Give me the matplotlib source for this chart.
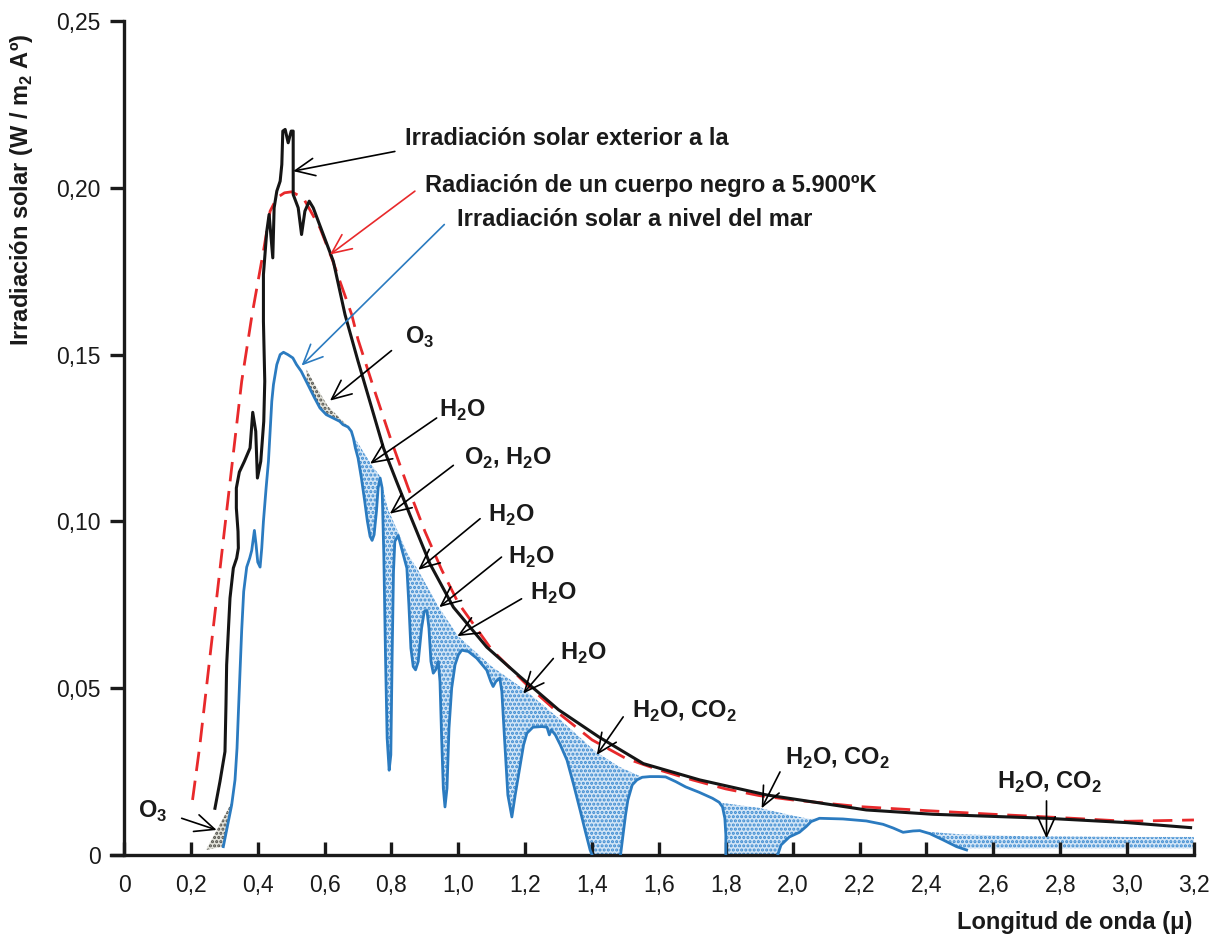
import matplotlib
matplotlib.use("Agg")
import matplotlib.pyplot as plt
import numpy as np

plt.rcParams['font.family'] = ['Liberation Sans', 'DejaVu Sans']
plt.rcParams['mathtext.fontset'] = 'custom'
plt.rcParams['mathtext.rm'] = 'Liberation Sans'
plt.rcParams['mathtext.bf'] = 'Liberation Sans:bold'
plt.rcParams['hatch.linewidth'] = 1.5

# ---------------- data (wavelength in micron, irradiance W/m2 A) ----------------
# Extraterrestrial solar irradiance (black)
ext_x = [0.272, 0.287, 0.302, 0.305, 0.307, 0.317, 0.327, 0.337, 0.342, 0.341, 0.336, 0.336,
         0.345, 0.360, 0.377, 0.385, 0.394, 0.399, 0.409, 0.418, 0.421, 0.417, 0.417, 0.427,
         0.434, 0.445, 0.449, 0.457, 0.467, 0.472, 0.475, 0.482, 0.491, 0.500, 0.506, 0.506,
         0.506, 0.521, 0.531, 0.541, 0.554, 0.566, 0.596, 0.626, 0.661, 0.700, 0.741, 0.776,
         0.815, 0.855, 0.915, 0.985, 1.085, 1.184, 1.30, 1.42, 1.553, 1.722, 1.922, 2.22,
         2.42, 2.76, 3.00, 3.19]
ext_y = [0.014, 0.022, 0.031, 0.045, 0.057, 0.077, 0.086, 0.089, 0.092, 0.097, 0.104, 0.110,
         0.1148, 0.118, 0.122, 0.1327, 0.127, 0.113, 0.118, 0.130, 0.142, 0.160, 0.174,
         0.187, 0.192, 0.179, 0.194, 0.199, 0.202, 0.207, 0.217, 0.2175, 0.2135, 0.217,
         0.217, 0.205, 0.198, 0.194, 0.186, 0.193, 0.196, 0.194, 0.186, 0.178, 0.162, 0.148,
         0.134, 0.122, 0.112, 0.102, 0.0873, 0.0743, 0.0623, 0.0535, 0.0435, 0.0354, 0.0274,
         0.0225, 0.018, 0.0135, 0.0122, 0.011, 0.0097, 0.0082]

# Blackbody radiation at 5900 K (red dashed)
bb_x = [0.205, 0.227, 0.26, 0.30, 0.352, 0.383, 0.417, 0.437, 0.457, 0.48, 0.501, 0.536,
        0.586, 0.621, 0.681, 0.70, 0.75, 0.80, 0.85, 0.90, 0.95, 1.0, 1.1, 1.2, 1.3, 1.4,
        1.5, 1.6, 1.7, 1.8, 1.9, 2.0, 2.2, 2.4, 2.6, 2.8, 3.0, 3.2]
bb_y = [0.0165, 0.033, 0.062, 0.097, 0.142, 0.162, 0.181, 0.193, 0.197, 0.1985, 0.1988, 0.197,
        0.188, 0.179, 0.162, 0.1545, 0.139, 0.124, 0.110, 0.097, 0.0855, 0.0755, 0.0615,
        0.0515, 0.0425, 0.0345, 0.029, 0.0255, 0.0225, 0.0198, 0.0178, 0.0165, 0.0145,
        0.0133, 0.0122, 0.0112, 0.0101, 0.0105]

# Solar irradiance at sea level (blue), three pieces
sea1_x = [0.297, 0.31, 0.322, 0.332, 0.338, 0.342, 0.347, 0.352, 0.358, 0.367, 0.376, 0.382,
          0.39, 0.395, 0.400, 0.407, 0.412, 0.417, 0.425, 0.432, 0.437, 0.442, 0.447, 0.457,
          0.467, 0.477, 0.49, 0.505, 0.516, 0.53, 0.55, 0.57, 0.586, 0.605, 0.625, 0.645,
          0.655, 0.67, 0.68, 0.686, 0.692, 0.70, 0.71, 0.72, 0.728, 0.736, 0.742, 0.748,
          0.755, 0.76, 0.766, 0.772, 0.777, 0.782, 0.787, 0.793, 0.798, 0.802, 0.806, 0.81,
          0.82, 0.83, 0.846, 0.852, 0.858, 0.865, 0.872, 0.88, 0.89, 0.898, 0.906, 0.912,
          0.918, 0.925, 0.932, 0.94, 0.945, 0.95, 0.955, 0.96, 0.966, 0.972, 0.98, 0.99,
          1.0, 1.01, 1.03, 1.055, 1.085, 1.097, 1.104, 1.112, 1.124, 1.13, 1.138, 1.148,
          1.16, 1.17, 1.184, 1.195, 1.205, 1.223, 1.25, 1.265, 1.272, 1.278, 1.29, 1.305,
          1.325, 1.345, 1.364, 1.38, 1.394, 1.40]
sea1_y = [0.0025, 0.009, 0.015, 0.0225, 0.032, 0.0424, 0.055, 0.0674, 0.079, 0.0863, 0.089,
          0.0913, 0.0973, 0.093, 0.0878, 0.0863, 0.092, 0.100, 0.110, 0.118, 0.127, 0.136,
          0.141, 0.147, 0.150, 0.1507, 0.150, 0.149, 0.147, 0.145, 0.141, 0.137, 0.134,
          0.132, 0.131, 0.130, 0.129, 0.1283, 0.127, 0.125, 0.122, 0.119, 0.113, 0.106,
          0.100, 0.0955, 0.0943, 0.096, 0.103, 0.110, 0.113, 0.110, 0.090, 0.060, 0.035,
          0.0254, 0.030, 0.060, 0.085, 0.094, 0.0958, 0.092, 0.086, 0.075, 0.062, 0.0565,
          0.0555, 0.058, 0.068, 0.073, 0.0733, 0.068, 0.058, 0.0545, 0.0555, 0.058, 0.052,
          0.035, 0.020, 0.0144, 0.020, 0.038, 0.050, 0.057, 0.060, 0.0614, 0.061, 0.059,
          0.0554, 0.052, 0.0505, 0.052, 0.053, 0.049, 0.035, 0.018, 0.0114, 0.018, 0.0264,
          0.033, 0.0365, 0.0383, 0.0385, 0.0383, 0.036, 0.0375, 0.036, 0.033, 0.0284, 0.021,
          0.0135, 0.007, 0.0015, 0.0]
sea2_x = [1.485, 1.49, 1.50, 1.507, 1.52, 1.534, 1.55, 1.573, 1.60, 1.62, 1.65, 1.68, 1.72,
          1.76, 1.78, 1.79, 1.797, 1.80, 1.80]
sea2_y = [0.0, 0.004, 0.012, 0.0165, 0.021, 0.0225, 0.0233, 0.0235, 0.0235, 0.0234, 0.022,
          0.0204, 0.0188, 0.017, 0.0158, 0.0144, 0.011, 0.006, 0.0]
sea3_x = [1.955, 1.965, 1.99, 2.02, 2.04, 2.055, 2.08, 2.15, 2.22, 2.27, 2.30, 2.33, 2.36,
          2.38, 2.41, 2.45, 2.49, 2.52]
sea3_y = [0.0, 0.003, 0.0054, 0.0068, 0.0085, 0.010, 0.011, 0.0108, 0.0102, 0.0092, 0.0081,
          0.0068, 0.0072, 0.0073, 0.0064, 0.0045, 0.0025, 0.0015]

# Upper envelopes of the absorption (stippled) bands
band1_x = [0.69, 0.74, 0.766, 0.79, 0.85, 0.88, 0.94, 1.0, 1.1, 1.2, 1.3, 1.41, 1.48, 1.55]
band1_y = [0.125, 0.117, 0.1135, 0.1035, 0.090, 0.0853, 0.0745, 0.0655, 0.0565, 0.0494,
           0.041, 0.031, 0.0265, 0.0233]
band2_x = [1.79, 1.9, 2.0, 2.05, 2.08]
band2_y = [0.0156, 0.0141, 0.0118, 0.0108, 0.011]
band3_x = [2.36, 2.5, 2.7, 3.0, 3.2]
band3_y = [0.0073, 0.0062, 0.0056, 0.0054, 0.0054]
band3_floor = 0.002

# Ozone absorption (gray stipple)
o3a_x = [0.546, 0.58, 0.61, 0.64, 0.665]
o3a_y = [0.1455, 0.1395, 0.1345, 0.1315, 0.129]
o3b_x = [0.245, 0.326, 0.322, 0.31, 0.297]
o3b_y = [0.0015, 0.0165, 0.015, 0.009, 0.0025]

xticks = [0, 0.2, 0.4, 0.6, 0.8, 1.0, 1.2, 1.4, 1.6, 1.8, 2.0, 2.2, 2.4, 2.6, 2.8, 3.0, 3.2]
xtick_labels = ['0', '0,2', '0,4', '0,6', '0,8', '1,0', '1,2', '1,4', '1,6', '1,8', '2,0',
                '2,2', '2,4', '2,6', '2,8', '3,0', '3,2']
yticks = [0, 0.05, 0.10, 0.15, 0.20, 0.25]
ytick_labels = ['0', '0,05', '0,10', '0,15', '0,20', '0,25']

# annotations: (text, text position, arrow tail, arrow tip, colour)
notes = [
    ('Irradiación solar exterior a la', (0.841, 0.2147), (0.810, 0.2109), (0.506, 0.205), 'k'),
    ('Radiación de un cuerpo negro a 5.900ºK', (0.900, 0.2006), (0.870, 0.199), (0.616, 0.180), '#e8292b'),
    ('Irradiación solar a nivel del mar', (0.996, 0.1904), (0.958, 0.189), (0.531, 0.1467), '#2b7bc0'),
    (r'O$_\mathbf{3}$', (0.840, 0.1551), (0.80, 0.1512), (0.616, 0.1362), 'k'),
    (r'H$_\mathbf{2}$O', (0.943, 0.1332), (0.935, 0.131), (0.736, 0.1173), 'k'),
    (r'O$_\mathbf{2}$, H$_\mathbf{2}$O', (1.017, 0.1188), (0.985, 0.1168), (0.795, 0.1023), 'k'),
    (r'H$_\mathbf{2}$O', (1.089, 0.1018), (1.065, 0.1008), (0.880, 0.0855), 'k'),
    (r'H$_\mathbf{2}$O', (1.149, 0.0893), (1.129, 0.0893), (0.943, 0.0743), 'k'),
    (r'H$_\mathbf{2}$O', (1.214, 0.0783), (1.189, 0.0768), (0.997, 0.0656), 'k'),
    (r'H$_\mathbf{2}$O', (1.304, 0.0604), (1.284, 0.0589), (1.194, 0.0484), 'k'),
    (r'H$_\mathbf{2}$O, CO$_\mathbf{2}$', (1.518, 0.0429), (1.493, 0.0414), (1.414, 0.030), 'k'),
    (r'H$_\mathbf{2}$O, CO$_\mathbf{2}$', (1.977, 0.0290), (1.962, 0.0249), (1.907, 0.014), 'k'),
    (r'H$_\mathbf{2}$O, CO$_\mathbf{2}$', (2.610, 0.0219), (2.759, 0.0162), (2.759, 0.005), 'k'),
    (r'O$_\mathbf{3}$', (0.043, 0.0130), (0.1725, 0.011), (0.277, 0.0075), 'k'),
]

# ---------------- figure ----------------
fig = plt.figure(figsize=(12.13, 9.34), dpi=100)
ax = fig.add_axes([0.0912, 0.0846, 0.8931, 0.8929])
ax.set_xlim(-0.04, 3.2)
ax.set_ylim(0, 0.25)

blue = '#2b7bc0'
fill_face = '#d2e5f6'
fill_hatch = '#3b8ad0'
HATCH = '....'

# stippled absorption bands
sea1_full_x = np.array(sea1_x + sea2_x)
sea1_full_y = np.array(sea1_y + sea2_y)
bx = np.linspace(band1_x[0], band1_x[-1], 600)
top = np.interp(bx, band1_x, band1_y)
low = np.interp(bx, sea1_full_x, sea1_full_y)
low[(bx > 1.40) & (bx < 1.485)] = 0.0
ax.fill_between(bx, low, top, where=top >= low, interpolate=True, facecolor=fill_face,
                edgecolor=fill_hatch, hatch=HATCH, linewidth=0, zorder=1)

bx2 = np.linspace(band2_x[0], band2_x[-1], 300)
top2 = np.interp(bx2, band2_x, band2_y)
all_x = np.array(sea2_x + sea3_x)
all_y = np.array(sea2_y + sea3_y)
low2 = np.interp(bx2, all_x, all_y)
low2[(bx2 > 1.80) & (bx2 < 1.955)] = 0.0
ax.fill_between(bx2, low2, top2, where=top2 >= low2, interpolate=True, facecolor=fill_face,
                edgecolor=fill_hatch, hatch=HATCH, linewidth=0, zorder=1)

bx3 = np.linspace(band3_x[0], band3_x[-1], 400)
top3 = np.interp(bx3, band3_x, band3_y)
low3 = np.interp(bx3, sea3_x, sea3_y, right=band3_floor)
low3 = np.maximum(low3, band3_floor)
ax.fill_between(bx3, low3, top3, where=top3 >= low3, interpolate=True, facecolor=fill_face,
                edgecolor=fill_hatch, hatch=HATCH, linewidth=0, zorder=1)

# ozone (gray)
ox = np.linspace(o3a_x[0], o3a_x[-1], 200)
otop = np.interp(ox, o3a_x, o3a_y)
olow = np.interp(ox, sea1_x, sea1_y)
ax.fill_between(ox, olow, otop, where=otop >= olow, interpolate=True, facecolor='#e2e2da',
                edgecolor='#4d4d48', hatch=HATCH, linewidth=0, zorder=1)
ax.fill(o3b_x, o3b_y, facecolor='#e2e2da', edgecolor='#4d4d48', hatch=HATCH,
        linewidth=0, zorder=1)

# curves
ax.plot(bb_x, bb_y, color='#e8292b', lw=2.0, dashes=(7, 3.5), zorder=3)
ax.plot(ext_x, ext_y, color='#151515', lw=2.2, zorder=4, solid_joinstyle='round')
for xs, ys in ((sea1_x, sea1_y), (sea2_x, sea2_y), (sea3_x, sea3_y)):
    ax.plot(xs, ys, color=blue, lw=2.0, zorder=4, solid_joinstyle='round')

# annotations
for txt, tpos, tail, tip, col in notes:
    ax.annotate('', xy=tip, xytext=tail,
                arrowprops=dict(arrowstyle='->,head_length=1.0,head_width=0.45',
                                color=col, lw=1.2, mutation_scale=14,
                                shrinkA=0, shrinkB=0), zorder=6)
    ax.text(tpos[0], tpos[1], txt, fontsize=17, fontweight='bold', color='#1a1a1a',
            ha='left', va='center', zorder=7)

# axes styling
for s in ('top', 'right'):
    ax.spines[s].set_visible(False)
ax.spines['left'].set_position(('data', 0))
for s in ('left', 'bottom'):
    ax.spines[s].set_linewidth(2.4)
    ax.spines[s].set_color('#1a1a1a')
ax.set_xticks(xticks)
ax.set_xticklabels(xtick_labels)
ax.set_yticks(yticks)
ax.set_yticklabels(ytick_labels)
ax.tick_params(axis='x', direction='in', length=9.5, width=2.4, pad=14, labelsize=16.5,
               colors='#1a1a1a')
ax.tick_params(axis='y', direction='out', length=10, width=2.4, pad=7, labelsize=16.5,
               colors='#1a1a1a')

fig.text(0.983, 0.0128, 'Longitud de onda (μ)', fontsize=17, fontweight='bold',
         ha='right', va='center', color='#1a1a1a')
fig.text(0.018, 1 - 190 / 934, r'Irradiación solar (W / m$_\mathbf{2}$ Aº)', fontsize=17,
         fontweight='bold', rotation=90, ha='center', va='center', color='#1a1a1a')

fig.savefig('out.png', dpi=100)
